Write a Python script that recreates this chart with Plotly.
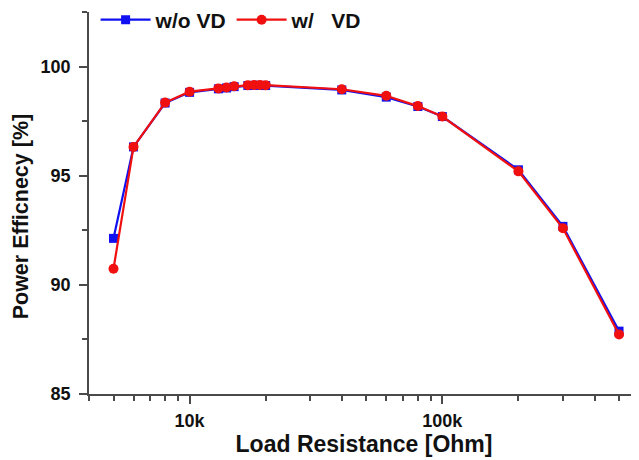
import plotly.graph_objects as go

# Load resistance (Ohm)
resistance = [5000, 6000, 8000, 10000, 13000, 14000, 15000, 17000, 18000, 19000, 20000,
              40000, 60000, 80000, 100000, 200000, 300000, 500000]
# Power efficiency [%]
eff_wo_vd = [92.13, 96.32, 98.33, 98.82, 98.98, 99.02, 99.08, 99.13, 99.14, 99.14, 99.13,
             98.93, 98.60, 98.17, 97.71, 95.27, 92.68, 87.88]
eff_w_vd = [90.74, 96.32, 98.35, 98.85, 99.00, 99.04, 99.10, 99.15, 99.16, 99.16, 99.15,
            98.96, 98.66, 98.19, 97.71, 95.20, 92.59, 87.73]

series_names = ["w/o VD", "w/\u00a0\u00a0\u00a0VD"]

x_tick_vals = [10000, 100000]
x_tick_text = ["10k", "100k"]
x_minor_vals = [4000, 5000, 6000, 7000, 8000, 9000, 20000, 30000, 40000, 50000,
                60000, 70000, 80000, 90000, 200000, 300000, 400000, 500000]
y_tick_vals = [85, 90, 95, 100]
y_tick_text = ["85", "90", "95", "100"]

FONT = "Liberation Sans, Arial"

fig = go.Figure()
fig.add_trace(go.Scatter(
    x=resistance, y=eff_wo_vd, name=series_names[0], mode="lines+markers",
    line=dict(color="#1010F0", width=2.2),
    marker=dict(symbol="square", size=9, color="#1010F0"),
))
fig.add_trace(go.Scatter(
    x=resistance, y=eff_w_vd, name=series_names[1], mode="lines+markers",
    line=dict(color="#F01010", width=2.2),
    marker=dict(symbol="circle", size=10, color="#F01010"),
))

axis_common = dict(
    showline=True, linecolor="#4a4a4a", linewidth=1.5, mirror=False,
    showgrid=False, zeroline=False, ticks="outside", tickcolor="#4a4a4a",
    tickwidth=1.5, ticklen=8, automargin=False,
    tickfont=dict(family=FONT, size=18, color="#111111", weight="bold"),
)

# the page body adds an 8px margin, so the figure is sized to fill the rest
fig.update_layout(
    width=631, height=452,
    margin=dict(l=81, r=0, t=4, b=66, autoexpand=False),
    paper_bgcolor="white", plot_bgcolor="white",
    font=dict(family=FONT, color="#111111"),
    showlegend=True,
    legend=dict(
        orientation="h", x=0.012, y=0.979, xanchor="left", yanchor="middle",
        font=dict(family=FONT, size=21, color="#111111", weight="bold"),
        bgcolor="rgba(0,0,0,0)", itemwidth=50,
    ),
    xaxis=dict(
        type="log", range=[3.602, 5.778],
        tickmode="array", tickvals=x_tick_vals, ticktext=x_tick_text,
        ticklabelstandoff=2,
        minor=dict(tickmode="array", tickvals=x_minor_vals, ticks="outside",
                   ticklen=5, tickcolor="#4a4a4a", tickwidth=1.5, showgrid=False),
        title=dict(text="Load Resistance [Ohm]", standoff=3,
                   font=dict(family=FONT, size=23, color="#111111", weight="bold")),
        **axis_common,
    ),
    yaxis=dict(
        range=[85, 102.5],
        tickmode="array", tickvals=y_tick_vals, ticktext=y_tick_text,
        ticklabelstandoff=5,
        minor=dict(dtick=2.5, ticks="outside", ticklen=5, tickcolor="#4a4a4a",
                   tickwidth=1.5, showgrid=False),
        **axis_common,
    ),
    annotations=[dict(
        text="Power Efficnecy [%]", textangle=-90, showarrow=False,
        xref="paper", yref="paper", x=-0.123, y=0.466,
        xanchor="center", yanchor="middle", borderpad=0,
        font=dict(family=FONT, size=21.5, color="#111111", weight="bold"),
    )],
)

fig.write_html("out.html")
